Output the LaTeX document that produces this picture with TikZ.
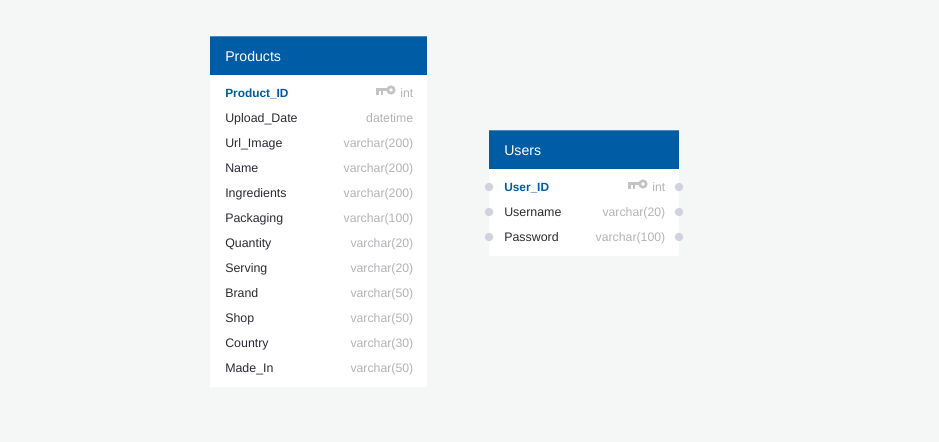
\documentclass[tikz,border=0pt]{standalone}
\usepackage{fontspec}
\setmainfont{Liberation Sans}
\definecolor{bgc}{HTML}{F5F7F6}
\definecolor{hdr}{HTML}{005CA5}
\definecolor{hdrtop}{HTML}{4A8BBF}
\definecolor{idc}{HTML}{005CA5}
\definecolor{namec}{HTML}{2B2B33}
\definecolor{typec}{HTML}{B4B4B8}
\definecolor{dotc}{HTML}{D2D2DE}
\definecolor{keyc}{HTML}{C4C4C4}
\tikzset{
  x=0.75pt,y=-0.75pt,
  tablebody/.style={fill=white,draw=none},
  tablehead/.style={fill=hdr,draw=none},
  headline/.style={draw=hdrtop,line width=0.75pt},
  titletext/.style={anchor=base west,inner sep=0pt,text=white,font=\fontsize{10.6pt}{12pt}\selectfont},
  colname/.style={anchor=base west,inner sep=0pt,text=namec,font=\fontsize{9.3pt}{11pt}\selectfont},
  pkname/.style={anchor=base west,inner sep=0pt,text=idc,font=\fontsize{8.9pt}{11pt}\selectfont\bfseries},
  coltype/.style={anchor=base east,inner sep=0pt,text=typec,font=\fontsize{9.2pt}{11pt}\selectfont},
  portdot/.style={circle,fill=dotc,draw=none,minimum size=6.4pt,inner sep=0pt},
  keyicon/.pic={
    \draw[keyc,line width=2pt] (5,-1) circle[radius=3.2];
    \fill[keyc] (-10,-3) rectangle (3,0);
    \fill[keyc] (-10,0) rectangle (-7.5,4);
    \fill[keyc] (-5.5,0) rectangle (-3,4);
  }
}
\begin{document}
\begin{tikzpicture}
\useasboundingbox (0,0) rectangle (939,442);
\fill[bgc] (0,0) rectangle (939,442);
% Products
\fill[tablebody] (210,75) rectangle (427,387);
\fill[tablehead] (210,37) rectangle (427,75);
\draw[headline] (210,37) -- (427,37);
\node[titletext] (ptitle) at (225,61.7) {Products};
\node[pkname] (p1) at (225,97.6) {Product\_ID};
\node[coltype] (t1) at (413.5,97.6) {int};
\pic at (386,91) {keyicon};
\node[colname] (p2) at (225,122.6) {Upload\_Date};
\node[coltype] (t2) at (413.5,122.6) {datetime};
\node[colname] (p3) at (225,147.6) {Url\_Image};
\node[coltype] (t3) at (413.5,147.6) {varchar(200)};
\node[colname] (p4) at (225,172.6) {Name};
\node[coltype] (t4) at (413.5,172.6) {varchar(200)};
\node[colname] (p5) at (225,197.6) {Ingredients};
\node[coltype] (t5) at (413.5,197.6) {varchar(200)};
\node[colname] (p6) at (225,222.6) {Packaging};
\node[coltype] (t6) at (413.5,222.6) {varchar(100)};
\node[colname] (p7) at (225,247.6) {Quantity};
\node[coltype] (t7) at (413.5,247.6) {varchar(20)};
\node[colname] (p8) at (225,272.6) {Serving};
\node[coltype] (t8) at (413.5,272.6) {varchar(20)};
\node[colname] (p9) at (225,297.3) {Brand};
\node[coltype] (t9) at (413.5,297.3) {varchar(50)};
\node[colname] (p10) at (225,322.3) {Shop};
\node[coltype] (t10) at (413.5,322.3) {varchar(50)};
\node[colname] (p11) at (225,347.3) {Country};
\node[coltype] (t11) at (413.5,347.3) {varchar(30)};
\node[colname] (p12) at (225,372.3) {Made\_In};
\node[coltype] (t12) at (413.5,372.3) {varchar(50)};
% Users
\fill[tablebody] (489,169) rectangle (679,256);
\fill[tablehead] (489,131) rectangle (679,169);
\draw[headline] (489,131) -- (679,131);
\node[titletext] (utitle) at (504,155.7) {Users};
\node[pkname] (u1) at (504,191.6) {User\_ID};
\node[coltype] (v1) at (665.5,191.6) {int};
\pic at (638,185) {keyicon};
\node[colname] (u2) at (504,216.6) {Username};
\node[coltype] (v2) at (665.5,216.6) {varchar(20)};
\node[colname] (u3) at (504,241.3) {Password};
\node[coltype] (v3) at (665.5,241.3) {varchar(100)};
\node[portdot] (dl1) at (489,187) {};
\node[portdot] (dl2) at (489,212) {};
\node[portdot] (dl3) at (489,237) {};
\node[portdot] (dr1) at (679,187) {};
\node[portdot] (dr2) at (679,212) {};
\node[portdot] (dr3) at (679,237) {};
\end{tikzpicture}
\end{document}
